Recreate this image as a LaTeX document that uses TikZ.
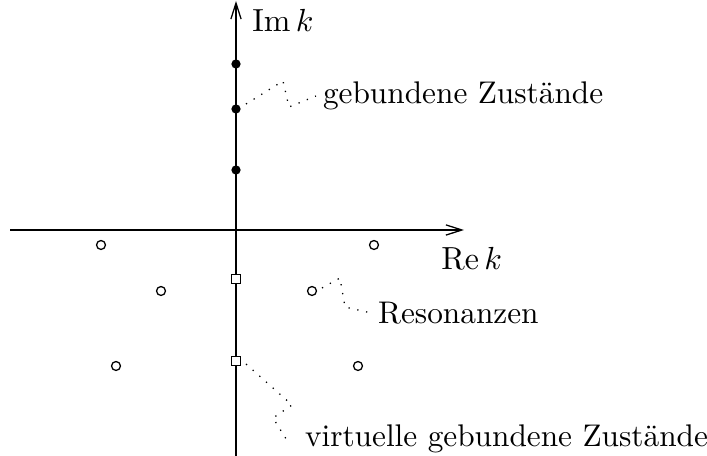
\documentclass[tikz,border=0pt]{standalone}
\usetikzlibrary{calc, positioning}
\usetikzlibrary{arrows.meta}
\tikzset{
  bound/.style={circle, fill=black, inner sep=0pt, minimum size=2.9pt},
  reso/.style={circle, draw, thin, fill=white, inner sep=0pt, minimum size=2.8pt},
  virt/.style={rectangle, draw, thin, fill=white, inner sep=0pt, minimum size=2.6pt},
  hint/.style={dash pattern=on 0.4pt off 2.4pt, thin},
  axis/.style={-{Straight Barb[length=5pt, width=3.2pt]}},
}
\begin{document}
\begin{tikzpicture}[x=0.011cm, y=-0.011cm, font=\fontsize{9.8pt}{11.8pt}\selectfont]
\useasboundingbox (0,0) rectangle (707,456);

% axes
\coordinate (W) at (10,230);
\coordinate (E) at (464,230);
\coordinate (S) at (236,456);
\coordinate (N) at (236,1);
\draw[axis] (W) -- (E);
\draw[axis] (S) -- (N);
\node[anchor=west] (imk) at (241,20) {$\mathrm{Im}\,k$};
\node[anchor=west] (rek) at (430,258) {$\mathrm{Re}\,k$};

% bound states
\node[bound] (b1) at (236,64) {};
\node[bound] (b2) at (236,109) {};
\node[bound] (b3) at (236,170) {};

% resonances
\node[reso] (r1) at (101,245) {};
\node[reso] (r2) at (374,245) {};
\node[reso] (r3) at (161,291) {};
\node[reso] (r4) at (312,291) {};
\node[reso] (r5) at (116,366) {};
\node[reso] (r6) at (358,366) {};

% virtual states
\node[virt] (v1) at (236,279) {};
\node[virt] (v2) at (236,361) {};

% labels
\node[anchor=west, inner sep=2pt] (gz) at (316,96) {gebundene Zust\"ande};
\node[anchor=west, inner sep=2pt] (res) at (371,313) {Resonanzen};
\node[anchor=west, inner sep=2pt] (vgz) at (298,439) {virtuelle gebundene Zust\"ande};

% dotted hints
\coordinate (g1) at (283,81);
\coordinate (g2) at (289,107);
\coordinate (q1) at (340,278);
\coordinate (q2) at (345,307);
\coordinate (u1) at (292,405);
\coordinate (u2) at (273,418);
\draw[hint] ($(b2)+(10,-5)$) -- (g1) -- (g2) -- (gz.west);
\draw[hint] ($(r4)+(10,-3)$) -- (q1) -- (q2) -- (res.west);
\draw[hint] ($(v2)+(10,3)$) -- (u1) -- (u2) -- ($(vgz.west)+(-10,3)$);
\end{tikzpicture}
\end{document}
